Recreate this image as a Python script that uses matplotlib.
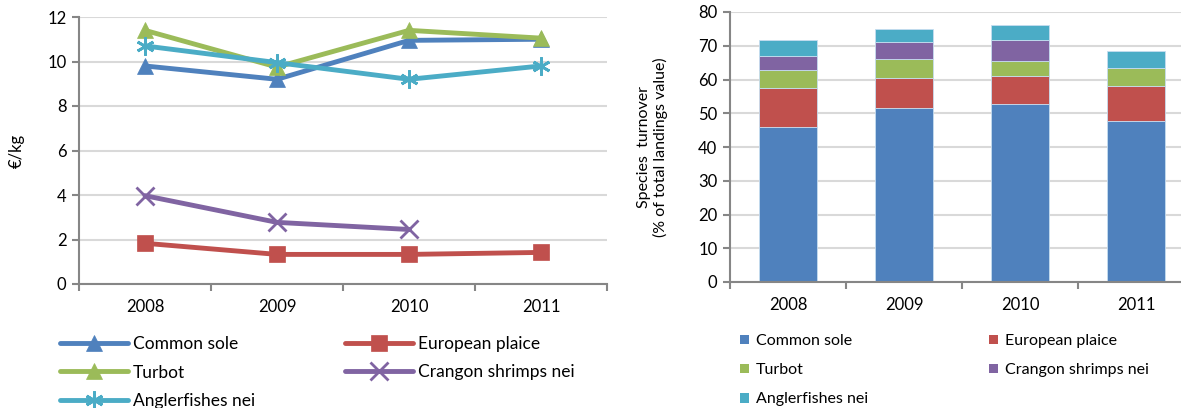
import numpy as np
import matplotlib
matplotlib.use("Agg")
import matplotlib.pyplot as plt
from matplotlib.patches import Patch

plt.rcParams['font.family'] = ['Lato', 'DejaVu Sans']

years = ["2008", "2009", "2010", "2011"]
species = ["Common sole", "European plaice", "Turbot", "Crangon shrimps nei", "Anglerfishes nei"]
colors = ["#4F81BD", "#C0504D", "#9BBB59", "#8064A2", "#4BACC6"]
markers = ["^", "s", "^", "x", (6, 2, 0)]

# average price, EUR/kg
price_sole = [9.8, 9.2, 10.95, 11.0]
price_plaice = [1.83, 1.33, 1.33, 1.42]
price_turbot = [11.4, 9.75, 11.4, 11.05]
price_crangon = [3.97, 2.77, 2.45, np.nan]
price_angler = [10.7, 9.95, 9.2, 9.8]

# share of total landings value, %
share_sole = [46.0, 51.6, 52.7, 47.6]
share_plaice = [11.6, 8.9, 8.3, 10.6]
share_turbot = [5.2, 5.6, 4.5, 5.1]
share_crangon = [4.3, 4.9, 6.1, 0.0]
share_angler = [4.6, 4.0, 4.5, 5.0]

prices = [price_sole, price_plaice, price_turbot, price_crangon, price_angler]
shares = [share_sole, share_plaice, share_turbot, share_crangon, share_angler]

# legend is filled row by row in the original
legend_order = [0, 2, 4, 1, 3]

W, H = 1181, 408
fig = plt.figure(figsize=(W / 100, H / 100), dpi=100)

axis_col = "#868686"
grid_col = "#D9D9D9"
x = np.arange(len(years))


def style_axes(ax):
    for s in ["top", "right"]:
        ax.spines[s].set_visible(False)
    for s in ["left", "bottom"]:
        ax.spines[s].set_color(axis_col)
        ax.spines[s].set_linewidth(1.5)
    ax.set_axisbelow(True)
    ax.yaxis.grid(True, color=grid_col, linewidth=1.5)
    ax.tick_params(axis="y", length=5, width=1.5, color=axis_col, labelsize=12, pad=4)
    ax.set_xlim(-0.5, len(years) - 0.5)
    ax.set_xticks(np.arange(len(years) + 1) - 0.5)
    ax.set_xticklabels([])
    ax.tick_params(axis="x", which="major", length=5, width=1.5, color=axis_col)
    ax.set_xticks(x, minor=True)
    ax.set_xticklabels(years, minor=True)
    ax.tick_params(axis="x", which="minor", length=0, labelsize=12, pad=11)


# left: price lines
ax1 = fig.add_axes([79 / W, 1 - 284 / H, 528 / W, 267 / H])
style_axes(ax1)
lines = []
for name, vals, c, m in zip(species, prices, colors, markers):
    filled = m in ("^", "s")
    ln, = ax1.plot(x, vals, color=c, linewidth=3.5, marker=m,
                   markersize=12 if filled else 13,
                   markeredgewidth=0.5 if filled else 2, markeredgecolor=c,
                   label=name, solid_capstyle="round")
    lines.append(ln)
ax1.set_ylim(0, 12)
ax1.set_yticks(range(0, 13, 2))
ax1.set_ylabel("€/kg", fontsize=12, labelpad=16)
ax1.legend(handles=[lines[i] for i in legend_order], loc="upper left",
           bbox_to_anchor=(60 / W, 1 - 336 / H),
           bbox_transform=fig.transFigure, ncol=2, frameon=False, fontsize=12.5,
           handlelength=3.9, handletextpad=0.3, columnspacing=5.2,
           labelspacing=0.72, borderaxespad=0, borderpad=0)

# right: stacked bars
ax2 = fig.add_axes([730 / W, 1 - 282 / H, 464 / W, 270 / H])
style_axes(ax2)
bottom = np.zeros(len(years))
for name, vals, c in zip(species, shares, colors):
    ax2.bar(x, vals, width=0.5, bottom=bottom, color=c, edgecolor="#C6DDF0",
            linewidth=0.6, label=name)
    bottom += np.array(vals)
ax2.set_ylim(0, 80)
ax2.set_yticks(range(0, 81, 10))
ax2.set_ylabel("Species  turnover\n(% of total landings value)", fontsize=11.5,
               labelpad=22, linespacing=1.15)
patches = [Patch(facecolor=c, label=n) for n, c in zip(species, colors)]
ax2.legend(handles=[patches[i] for i in legend_order], loc="upper left",
           bbox_to_anchor=(740 / W, 1 - 334 / H),
           bbox_transform=fig.transFigure, ncol=2, frameon=False, fontsize=11.5,
           handlelength=0.55, handleheight=0.55, handletextpad=0.45, columnspacing=7.6,
           labelspacing=0.95, borderaxespad=0, borderpad=0)

fig.savefig("out.png", dpi=100)
